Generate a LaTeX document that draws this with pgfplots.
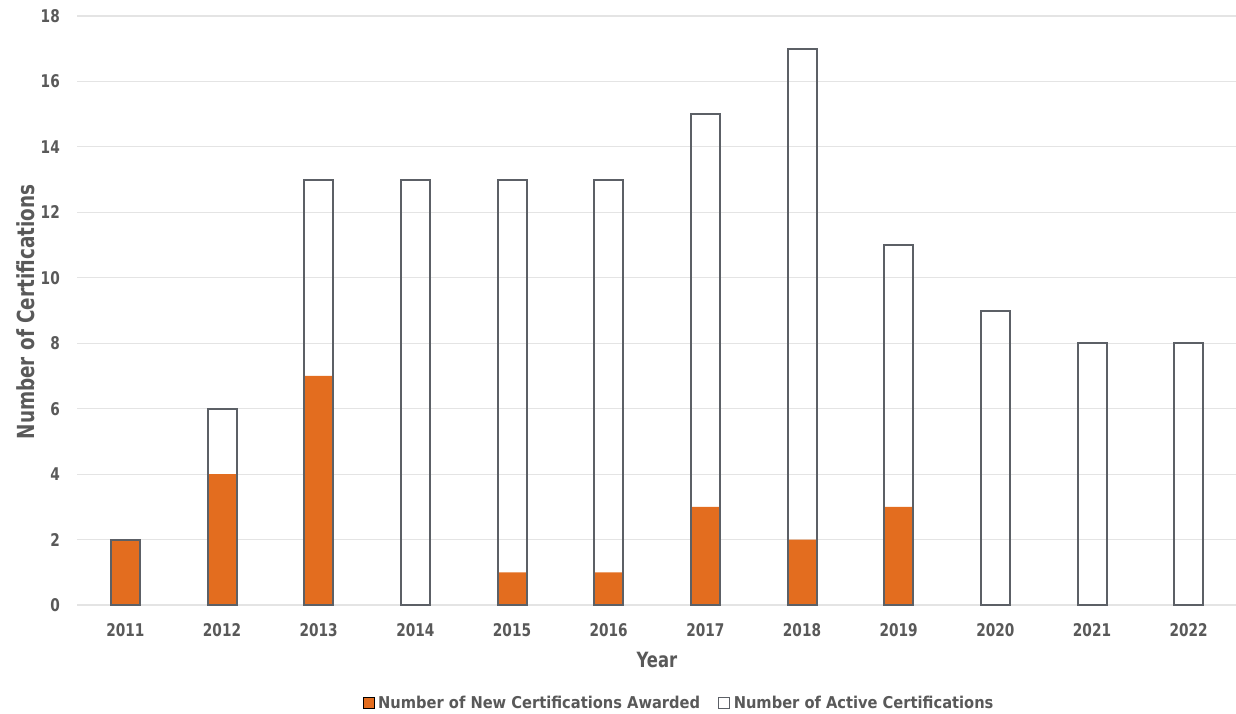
\documentclass[border=0pt]{standalone}
\usepackage{pgfplots}
\pgfplotsset{compat=1.18}
\usepackage{fontspec}
\setmainfont{DejaVu Sans Condensed}
\newfontfamily\condfont{DejaVu Sans Condensed}[FakeStretch=0.87]
\definecolor{txt}{HTML}{595959}
\definecolor{barorange}{HTML}{E36D1F}
\definecolor{outline}{HTML}{5C6066}
\definecolor{gridc}{HTML}{E4E4E4}
\begin{document}
\begin{tikzpicture}
\useasboundingbox (0,0) rectangle (1236bp,-714bp);
\begin{axis}[
  at={(77bp,-605bp)}, anchor=south west,
  scale only axis, width=1160bp, height=589bp,
  xmin=-0.5, xmax=11.5, ymin=0, ymax=18,
  xtick={0,...,11},
  xticklabels={2011,2012,2013,2014,2015,2016,2017,2018,2019,2020,2021,2022},
  ytick={0,2,...,18},
  ymajorgrids, grid style={gridc, line width=1.2bp},
  axis line style={draw=none},
  major tick length=0pt,
  /pgf/number format/assume math mode=true,
  tick label style={font=\condfont\fontsize{17.5bp}{20bp}\selectfont\bfseries, text=txt},
  yticklabel style={inner sep=0pt, anchor=east, xshift=-17bp},
  xticklabel style={inner sep=0pt, anchor=north, yshift=-18bp},
  xlabel={Year},
  ylabel={Number of Certifications},
  xlabel style={font=\condfont\fontsize{21bp}{24bp}\selectfont\bfseries, text=txt,
    at={(axis description cs:0.5,-0.0934)}, anchor=center},
  ylabel style={font=\condfont\fontsize{23.5bp}{26bp}\selectfont\bfseries, text=txt,
    at={(axis description cs:-0.044,0.4975)}, anchor=center, rotate=0},
  legend columns=2,
  legend style={draw=none, fill=none, at={(axis description cs:0.519,-0.1664)}, anchor=center,
    font=\fontsize{16.3bp}{18bp}\selectfont\bfseries, text=txt,
    /tikz/every even column/.append style={column sep=16bp}},
  legend image code/.code={\draw[#1, line width=1.2bp] (0bp,-5.5bp) rectangle (11bp,5.5bp); \path[draw=none, fill=none] (0bp,0bp) -- (13bp,0bp);},
]
\addplot[ybar, bar width=29bp, bar shift=0pt, fill=barorange, draw=none]
  coordinates {(0,2) (1,4) (2,7) (3,0) (4,1) (5,1) (6,3) (7,2) (8,3) (9,0) (10,0) (11,0)};
\addlegendentry{Number of New Certifications Awarded}
\addplot[ybar, bar width=29bp, bar shift=0pt, fill=none, draw=outline, line width=2bp]
  coordinates {(0,2) (1,6) (2,13) (3,13) (4,13) (5,13) (6,15) (7,17) (8,11) (9,9) (10,8) (11,8)};
\addlegendentry{Number of Active Certifications}
\end{axis}
\end{tikzpicture}
\end{document}
